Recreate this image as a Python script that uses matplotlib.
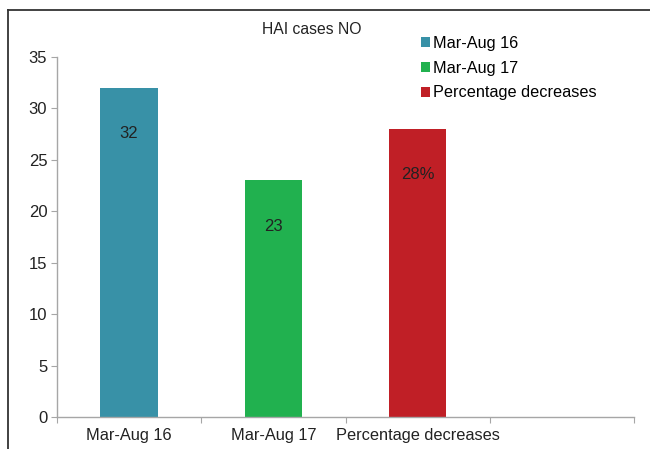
import numpy as np
import matplotlib
matplotlib.use('Agg')
import matplotlib.pyplot as plt
from matplotlib.patches import Patch
from matplotlib.lines import Line2D

plt.rcParams['font.family'] = ['Liberation Sans', 'DejaVu Sans']

categories = ['Mar-Aug 16', 'Mar-Aug 17', 'Percentage decreases']
values = [32, 23, 28]
value_labels = ['32', '23', '28%']
colors = ['#3891a7', '#21b14f', '#c01f26']
title = 'HAI cases NO'

fig = plt.figure(figsize=(6.5, 4.49), dpi=100)
ax = fig.add_axes([57 / 650, 1 - 417 / 449, (634 - 57) / 650, (417 - 57) / 449])

# 4 category slots, only 3 used (Excel leaves an empty one on the right)
x = np.arange(len(categories)) + 0.5
ax.bar(x, values, width=0.4, color=colors)

for xi, v, lab in zip(x, values, value_labels):
    ax.annotate(lab, (xi, v), xytext=(0, -33), textcoords='offset points',
                ha='center', va='center', fontsize=12, color='#222222')

ax.set_xlim(0, 4)
ax.set_ylim(0, 35)
ax.set_yticks(range(0, 36, 5))
ax.set_xticks(range(0, 5))
ax.set_xticklabels([])
ax.set_xticks(x, minor=True)
ax.set_xticklabels(categories, minor=True)

gray = '#a6a6a6'
for s in ['top', 'right']:
    ax.spines[s].set_visible(False)
for s in ['left', 'bottom']:
    ax.spines[s].set_color(gray)
    ax.spines[s].set_linewidth(1.0)
ax.tick_params(axis='both', which='major', color=gray, length=4, labelsize=12, labelcolor='#222222')
ax.tick_params(axis='x', which='minor', length=0, labelsize=11.8, labelcolor='#222222', pad=8)
ax.tick_params(axis='y', pad=3)

fig.text(312 / 650, 1 - 29 / 449, title, ha='center', va='center', fontsize=11.3, color='#222222')

handles = [Patch(facecolor=c, edgecolor='none') for c in colors]
fig.legend(handles, categories, loc='upper left', bbox_to_anchor=(421 / 650, 1 - 36 / 449),
           frameon=False, fontsize=11.7, handlelength=0.55, handleheight=0.55,
           handletextpad=0.2, labelspacing=0.6, borderpad=0, borderaxespad=0)

# partial outer frame (left and top edges)
fig.add_artist(Line2D([8 / 650, 8 / 650], [0, 1 - 10 / 449], transform=fig.transFigure,
                      color='#333333', linewidth=1.3))
fig.add_artist(Line2D([8 / 650, 1], [1 - 10 / 449, 1 - 10 / 449], transform=fig.transFigure,
                      color='#333333', linewidth=1.3))

fig.savefig('out.png', dpi=100)
